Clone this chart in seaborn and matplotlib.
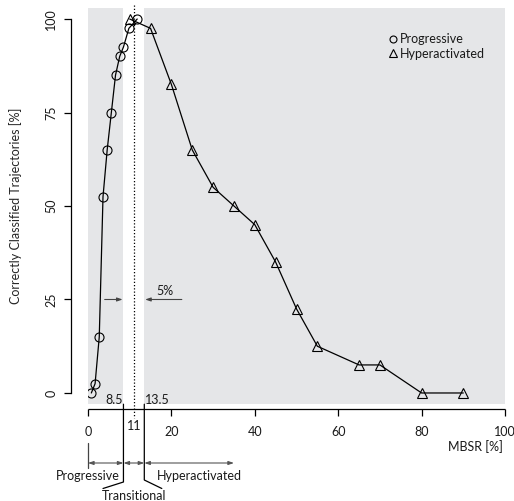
import matplotlib
matplotlib.use("Agg")
import matplotlib.pyplot as plt
import matplotlib.transforms as mtransforms
from matplotlib.lines import Line2D
import pandas as pd
import seaborn as sns

# data
prog_x = [0.8, 1.7, 2.7, 3.6, 4.6, 5.6, 6.6, 7.6, 8.5, 9.8, 11.8]
prog_y = [0, 2.5, 15, 52.5, 65, 75, 85, 90, 92.5, 97.5, 100]
hyper_x = [10, 15, 20, 25, 30, 35, 40, 45, 50, 55, 65, 70, 80, 90]
hyper_y = [100, 97.5, 82.5, 65, 55, 50, 45, 35, 22.5, 12.5, 7.5, 7.5, 0, 0]
x_ticks = [0, 20, 40, 60, 80, 100]
y_ticks = [0, 25, 50, 75, 100]
prog_end, split, hyper_start = 8.5, 11, 13.5
arrow_y, arrow_from, arrow_to = 25, (4, 22.5), (8.3, 13.7)
hyper_arrow_end = 35

df = pd.concat([
    pd.DataFrame({"MBSR": prog_x, "correct": prog_y, "group": "Progressive"}),
    pd.DataFrame({"MBSR": hyper_x, "correct": hyper_y, "group": "Hyperactivated"}),
])

sns.set_theme(style="ticks")
plt.rcParams["font.family"] = ["Lato", "DejaVu Sans"]
plt.rcParams["font.size"] = 9
plt.rcParams["text.color"] = "#1a1a1a"

W, H = 514, 501
AX_L, AX_R, AX_T, AX_B = 88, 505, 7.8, 404.2
fig = plt.figure(figsize=(W / 100, H / 100), dpi=100)
ax = fig.add_axes([AX_L / W, 1 - AX_B / H, (AX_R - AX_L) / W, (AX_B - AX_T) / H])


def ay(py):
    # pixel row -> axes fraction
    return (AX_B - py) / (AX_B - AX_T)


grey = "#e5e6e8"
ax.axvspan(0, prog_end, color=grey, lw=0, zorder=0)
ax.axvspan(hyper_start, 100, color=grey, lw=0, zorder=0)

sns.lineplot(data=df, x="MBSR", y="correct", style="group",
             markers={"Progressive": "o", "Hyperactivated": "^"},
             dashes=False, color="black", lw=0.9, ms=6.5,
             markerfacecolor="none", markeredgecolor="black",
             markeredgewidth=0.8, legend=False, ax=ax, sort=False)

ax.set_xlim(0, 100)
ax.set_ylim(-3, 103)
ax.set_xticks(x_ticks)
ax.set_yticks(y_ticks)
ax.set_xlabel("")
ax.set_ylabel("Correctly Classified Trajectories [%]", fontsize=9, labelpad=17)
for s in ["top", "right", "bottom"]:
    ax.spines[s].set_visible(False)
ax.spines["left"].set_position(("outward", 12.2))
ax.spines["left"].set_bounds(0, 100)
ax.spines["left"].set_linewidth(0.9)
ax.spines["left"].set_color("black")

trans = mtransforms.blended_transform_factory(ax.transData, ax.transAxes)

# bottom axis line and its ticks drawn by hand
axis_row = AX_B + 4.9
ax.plot([x_ticks[0], x_ticks[-1]], [ay(axis_row)] * 2, transform=trans,
        color="black", lw=0.9, clip_on=False, solid_capstyle="butt")
for t in x_ticks:
    ax.plot([t, t], [ay(axis_row), ay(axis_row + 7)], transform=trans,
            color="black", lw=0.9, clip_on=False, solid_capstyle="butt")

ax.tick_params(axis="both", direction="out", length=5, width=0.9,
               color="black", labelsize=9, labelcolor="#1a1a1a", left=True)
ax.tick_params(axis="x", bottom=False, length=0, pad=16)
ax.tick_params(axis="y", pad=5, labelrotation=90)
for lab in ax.get_yticklabels():
    lab.set_va("center")

# x label under the last tick label
ax.text(99.5, ay(447), "MBSR [%]", transform=trans, ha="right", va="center")

# threshold at 11
ax.plot([split, split], [ay(5), ay(418)], transform=trans, color="black",
        lw=0.9, ls=(0, (1, 1.6)), clip_on=False)
ax.text(split, ay(426), "11", transform=trans, ha="center", va="center")
ax.text(prog_end - 0.2, ay(400), "8.5", transform=trans, ha="right", va="center")
ax.text(hyper_start + 0.1, ay(400), "13.5", transform=trans, ha="left", va="center")

# brackets below the axis
ax.plot([prog_end, prog_end, 3.6], [ay(AX_B), ay(482), ay(488.5)], transform=trans,
        color="black", lw=0.9, clip_on=False)
ax.plot([hyper_start, hyper_start, 17.7], [ay(AX_B), ay(480), ay(488.5)], transform=trans,
        color="black", lw=0.9, clip_on=False)
ax.plot([0, 0], [ay(443), ay(468)], transform=trans, color="#444444", lw=0.9,
        clip_on=False)
for x0, x1 in [(0, prog_end), (prog_end, hyper_start), (hyper_start, hyper_arrow_end)]:
    ax.annotate("", xy=(x1, ay(463)), xytext=(x0, ay(463)),
                xycoords=trans, textcoords=trans, annotation_clip=False,
                arrowprops=dict(arrowstyle="<|-|>,head_length=0.35,head_width=0.12",
                                color="#555555", lw=0.8, shrinkA=0, shrinkB=0))
ax.text(prog_end - 0.8, ay(476), "Progressive", transform=trans, ha="right", va="center")
ax.text(hyper_start + 3, ay(476), "Hyperactivated", transform=trans, ha="left", va="center")
ax.text(split, ay(496), "Transitional", transform=trans, ha="center", va="center")

# 5% annotation
for x0, x1 in zip(arrow_from, arrow_to):
    ax.annotate("", xy=(x1, arrow_y), xytext=(x0, arrow_y),
                arrowprops=dict(arrowstyle="-|>,head_length=0.35,head_width=0.12",
                                color="#444444", lw=0.8, shrinkA=0, shrinkB=0))
ax.text(18.5, arrow_y + 0.6, "5%", ha="center", va="bottom")

handles = [
    Line2D([], [], ls="none", marker="o", ms=5, mfc="none", mec="black", mew=0.8),
    Line2D([], [], ls="none", marker="^", ms=5.5, mfc="none", mec="black", mew=0.8),
]
ax.legend(handles, ["Progressive", "Hyperactivated"], loc="upper left",
          bbox_to_anchor=((384 - AX_L) / (AX_R - AX_L), ay(28)), frameon=False,
          handlelength=0.6, handletextpad=0.3, labelspacing=0.2, borderaxespad=0,
          fontsize=9)

fig.savefig("out.png", dpi=100)
